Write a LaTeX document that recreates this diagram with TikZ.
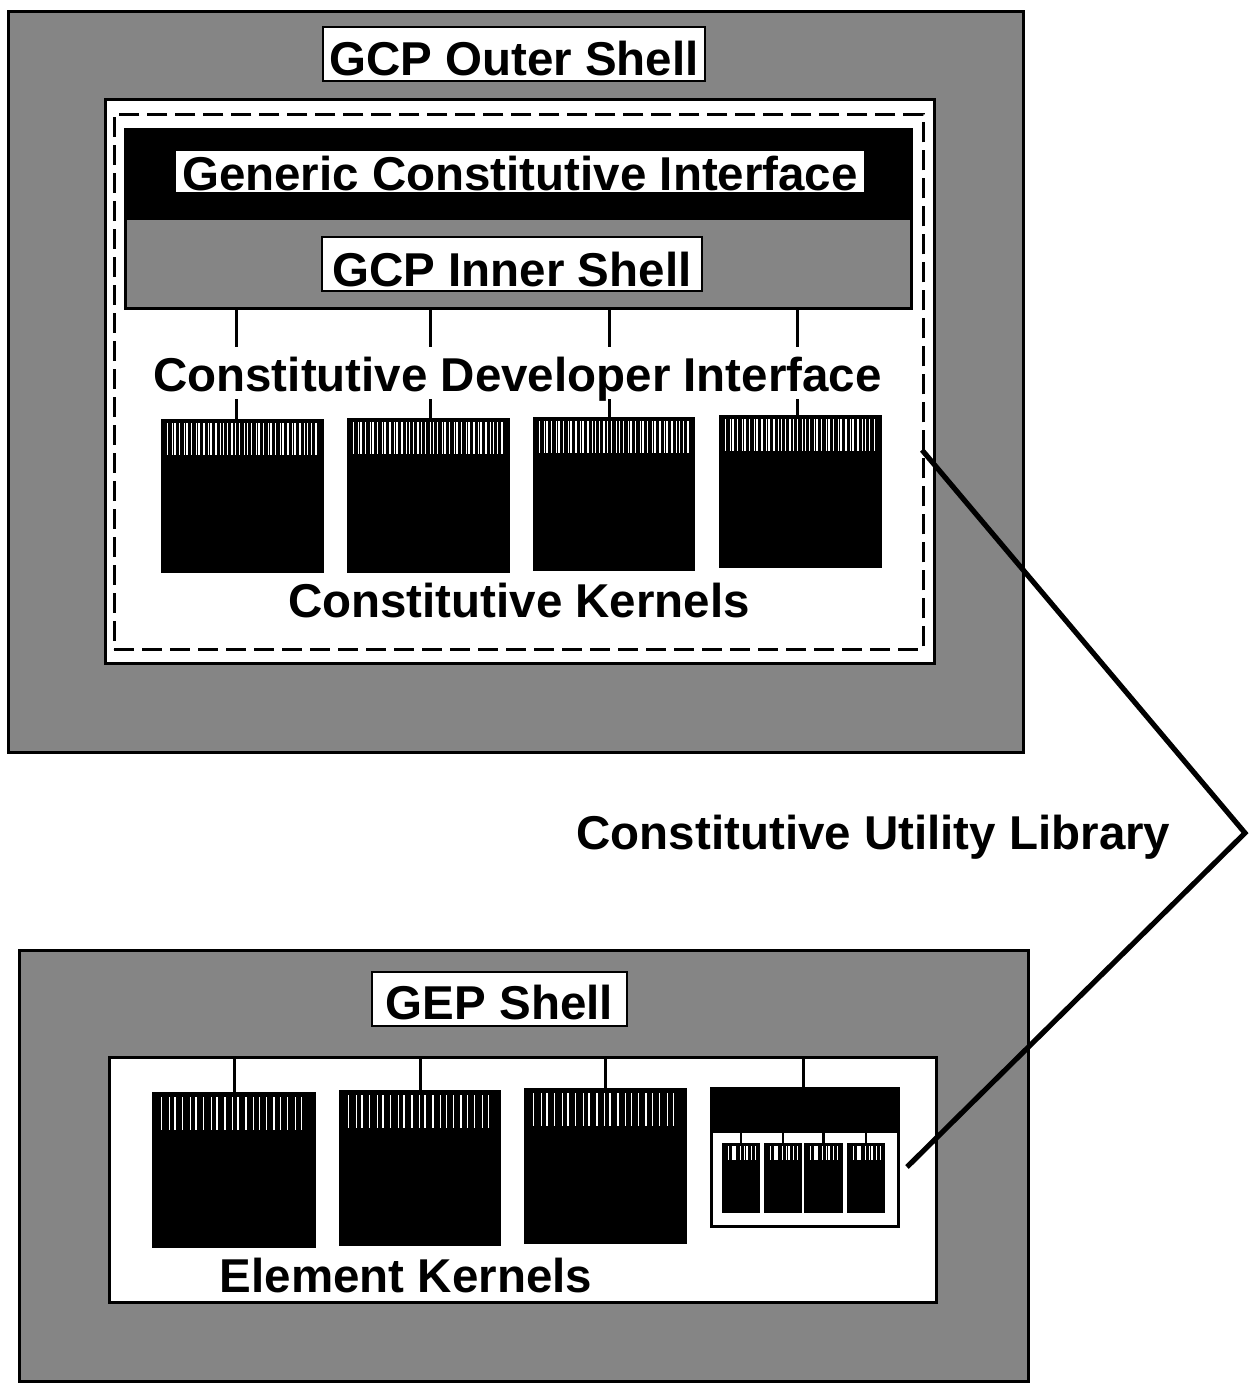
\documentclass[tikz,border=0pt]{standalone}
\usepackage{fontspec}
\setmainfont{Liberation Sans}
\newcommand\kstripes[5]{%
  \begin{scope}[shift={(#1.north west)}]
    \foreach \i in {1,...,#2}{
      \pgfmathsetmacro\xx{2+\i*#3+mod(\i*7,3)*0.7}
      \pgfmathsetmacro\ww{0.5+mod(\i*37,7)*0.22}
      \draw[white, line width=\ww pt] (\xx,#4) -- (\xx,#4+#5);
    }
  \end{scope}}
\begin{document}
\begin{tikzpicture}[x=1pt,y=-1pt,
  shell/.style={draw=black, line width=3pt, fill=black!48, inner sep=0pt, anchor=north west},
  whitebox/.style={draw=black, line width=3pt, fill=white, inner sep=0pt, anchor=north west},
  dashbox/.style={draw=black, line width=2.8pt, dash pattern=on 20pt off 8pt, inner sep=0pt, anchor=north west},
  lbl/.style={draw=black, line width=2.5pt, fill=white, font=\bfseries\fontsize{47.5}{50}\selectfont, inner sep=0pt, anchor=base},
  txt/.style={font=\bfseries\fontsize{47.5}{50}\selectfont, inner sep=0pt, anchor=base},
  stub/.style={line width=3pt},
  kernel/.style={fill=black, draw=black, line width=1pt, inner sep=0pt, anchor=north west},
  conn/.style={line width=5.2pt, line join=miter}
]
\useasboundingbox (0,0) rectangle (1253,1387);

% ---------- upper: GCP ----------
\node[shell, minimum width=1015pt, minimum height=741pt] (gcpouter) at (7,10) {};
\node[whitebox, minimum width=829pt, minimum height=564pt] (gcpwhite) at (104,98) {};
\node[dashbox, minimum width=809pt, minimum height=535pt] (gcpdash) at (113,113) {};
\node[fill=black!48, draw=black, line width=3pt, inner sep=0pt, anchor=north west,
      minimum width=786pt, minimum height=179pt] (innerband) at (124,128) {};
\node[fill=black, inner sep=0pt, anchor=north west,
      minimum width=786pt, minimum height=92pt] (gciband) at (124,128) {};

\node[lbl, minimum width=382pt, text height=48pt, text depth=6pt] (gos) at (514,75) {GCP Outer Shell};
\node[lbl, minimum width=690pt, text height=40pt, text depth=3pt] (gci) at (520,190) {Generic Constitutive Interface};
\node[lbl, minimum width=380pt, text height=49pt, text depth=5pt] (gis) at (512,286) {GCP Inner Shell};

% constitutive kernels
\node[kernel, minimum width=162pt, minimum height=153pt] (ck1) at (161,419) {};
\node[kernel, minimum width=162pt, minimum height=154pt] (ck2) at (347,418) {};
\node[kernel, minimum width=161pt, minimum height=153pt] (ck3) at (533,417) {};
\node[kernel, minimum width=162pt, minimum height=152pt] (ck4) at (719,415) {};
\kstripes{ck1}{38}{4}{4}{32}
\kstripes{ck2}{38}{4}{4}{32}
\kstripes{ck3}{38}{4}{4}{32}
\kstripes{ck4}{38}{4}{4}{32}

\draw[stub] ([xshift=-6pt]ck1.north) -- ([xshift=-6pt]ck1.north |- innerband.south);
\draw[stub] ([xshift=2pt]ck2.north) -- ([xshift=2pt]ck2.north |- innerband.south);
\draw[stub] ([xshift=-5pt]ck3.north) -- ([xshift=-5pt]ck3.north |- innerband.south);
\draw[stub] ([xshift=-3pt]ck4.north) -- ([xshift=-3pt]ck4.north |- innerband.south);

\node[txt, fill=white, text height=44pt, text depth=8pt] (cdi) at (517.5,391) {Constitutive Developer Interface};
\node[txt] (ckl) at (519,617) {Constitutive Kernels};

% ---------- lower: GEP ----------
\node[shell, minimum width=1009pt, minimum height=431pt] (gepouter) at (18,949) {};
\node[whitebox, minimum width=827pt, minimum height=245pt] (gepwhite) at (108,1056) {};
\node[lbl, minimum width=255pt, text height=47pt, text depth=7pt] (gep) at (499.5,1019) {GEP Shell};

\node[kernel, minimum width=163pt, minimum height=155pt] (ek1) at (152,1092) {};
\node[kernel, minimum width=161pt, minimum height=155pt] (ek2) at (339,1090) {};
\node[kernel, minimum width=162pt, minimum height=155pt] (ek3) at (524,1088) {};
\kstripes{ek1}{21}{7}{5}{33}
\kstripes{ek2}{21}{7}{5}{33}
\kstripes{ek3}{21}{7}{5}{33}

% composite kernel
\node[whitebox, minimum width=187pt, minimum height=138pt] (ek4) at (710,1087) {};
\fill[black] (ek4.north west) rectangle ([yshift=-46pt]ek4.north east);
\node[kernel, minimum width=37pt, minimum height=69pt] (m1) at (722,1143) {};
\node[kernel, minimum width=37pt, minimum height=69pt] (m2) at (764,1143) {};
\node[kernel, minimum width=38pt, minimum height=69pt] (m3) at (804,1143) {};
\node[kernel, minimum width=37pt, minimum height=69pt] (m4) at (847,1143) {};
\kstripes{m1}{8}{3.8}{3}{14}
\kstripes{m2}{8}{3.8}{3}{14}
\kstripes{m3}{8}{3.8}{3}{14}
\kstripes{m4}{8}{3.8}{3}{14}
\foreach \m in {m1,m2,m3,m4}{
  \draw[line width=2.5pt] (\m.north) -- ++(0,-11);
}

\draw[stub] (ek1.north) -- (ek1.north |- gepwhite.north);
\draw[stub] (ek2.north) -- (ek2.north |- gepwhite.north);
\draw[stub] (ek3.north) -- (ek3.north |- gepwhite.north);
\draw[stub] ([xshift=-1.5pt]ek4.north) -- ([xshift=-1.5pt]ek4.north |- gepwhite.north);

\node[txt] (ekl) at (406,1292) {Element Kernels};

% ---------- utility library connector ----------
\node[txt] (cul) at (873.5,849) {Constitutive Utility Library};
\coordinate (cu1) at (922,450);
\coordinate (apex) at (1245,833);
\coordinate (cu2) at (907,1167);
\draw[conn] (cu1) -- (apex) -- (cu2);
\end{tikzpicture}
\end{document}
